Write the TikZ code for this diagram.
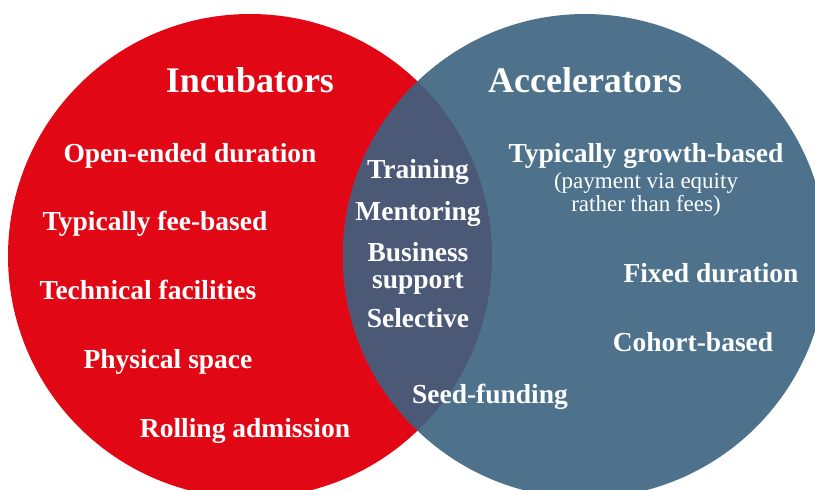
\documentclass[tikz,border=0pt]{standalone}
\usepackage{fontspec}
\setmainfont{Liberation Serif}
\usepackage{tikz}
\definecolor{incred}{HTML}{E20714}
\definecolor{accblue}{HTML}{4E728B}
\definecolor{overlap}{HTML}{4B5876}
\tikzset{
  title/.style={text=white, anchor=base, font=\fontsize{36}{40}\selectfont\bfseries},
  item/.style={text=white, anchor=base, font=\fontsize{27.5}{27}\selectfont\bfseries, align=center},
  note/.style={text=white, anchor=base, font=\fontsize{23}{20}\selectfont, align=center},
}

\begin{document}
\begin{tikzpicture}[x=1pt,y=-1pt]
  \useasboundingbox (0,0) rectangle (815,490);
  \clip (0,0) rectangle (815,490);
  \fill[incred] (250,256) circle (242);
  \fill[accblue] (585,256) circle (242);
  % lens where both sets meet
  \begin{scope}
    \clip (250,256) circle (242);
    \fill[overlap] (585,256) circle (242);
  \end{scope}
  \node[title] (inc) at (250,92) {Incubators};
  \node[title] (acc) at (585,92) {Accelerators};
  \node[item] (open) at (190,162) {Open-ended duration};
  \node[item] (fee) at (155,230) {Typically fee-based};
  \node[item] (tech) at (148,299) {Technical facilities};
  \node[item] (space) at (168,368) {Physical space};
  \node[item] (roll) at (245,437) {Rolling admission};
  \node[item] (train) at (418,178) {Training};
  \node[item] (ment) at (418,220) {Mentoring};
  % multi-line nodes sit on their last baseline
  \node[item] (bus) at (418,288) {Business\\support};
  \node[item] (sel) at (418,327) {Selective};
  \node[item] (seed) at (490,403) {Seed-funding};
  \node[item] (growth) at (646,162) {Typically growth-based};
  \node[note] (pay) at (646,211) {(payment via equity\\rather than fees)};
  \node[item] (fixed) at (711,282) {Fixed duration};
  \node[item] (cohort) at (693,351) {Cohort-based};
\end{tikzpicture}
\end{document}
